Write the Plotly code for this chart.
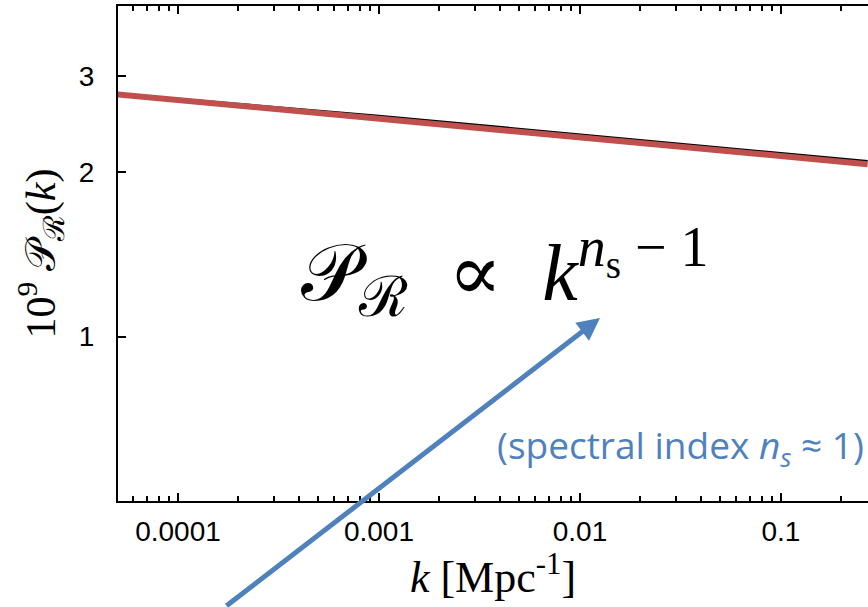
import plotly.graph_objects as go
import numpy as np

# data
k_vals = [5e-5, 1e-4, 1e-3, 1e-2, 1e-1, 0.27]
P_black = [2.776, 2.725, 2.538, 2.345, 2.167, 2.096]
P_red = [2.776, 2.711, 2.505, 2.315, 2.139, 2.069]

x_major = [1e-4, 1e-3, 1e-2, 1e-1]
x_major_labels = ["0.0001", "0.001", "0.01", "0.1"]
x_minor = [m * 10.0**e for e in range(-5, 0) for m in range(2, 10)]
y_ticks = [1, 2, 3]
y_tick_labels = ["1", "2", "3"]

W, H = 868, 607
L, R, T, B = 118, 0, 6, 106
pw, ph = W - L - R, H - T - B

def px(x):
    return (x - L) / pw

def py(y):
    return (H - B - y) / ph

fig = go.Figure()
fig.add_trace(go.Scatter(x=k_vals, y=P_black, mode="lines",
                         line=dict(color="black", width=2), showlegend=False))
fig.add_trace(go.Scatter(x=k_vals, y=P_red, mode="lines",
                         line=dict(color="#c0504d", width=6), showlegend=False))

tickfont = dict(family="Liberation Sans, Arial, sans-serif", size=28, color="black")
serif = "Liberation Serif, DejaVu Serif, serif"

fig.update_xaxes(type="log", range=[np.log10(5.03e-5), np.log10(0.271)],
                 tickmode="array", tickvals=x_major, ticktext=x_major_labels,
                 ticks="inside", ticklen=8, tickwidth=1.5, tickcolor="black",
                 minor=dict(tickmode="array", tickvals=x_minor, ticks="inside",
                            ticklen=5, tickwidth=1.5, tickcolor="black", showgrid=False),
                 showline=True, linecolor="black", linewidth=2, mirror="allticks",
                 showgrid=False, zeroline=False, tickfont=tickfont,
                 ticklabelstandoff=4,
                 title=dict(text="<i>k</i> [Mpc<sup>-1</sup>]",
                            font=dict(family=serif, size=44, color="black"),
                            standoff=4))
fig.update_yaxes(type="log", range=[np.log10(0.5), np.log10(4.03)],
                 tickmode="array", tickvals=y_ticks, ticktext=y_tick_labels,
                 ticks="inside", ticklen=8, tickwidth=1.5, tickcolor="black",
                 showline=True, linecolor="black", linewidth=2, mirror=False,
                 showgrid=False, zeroline=False, tickfont=tickfont,
                 ticklabelstandoff=16,
                 title=dict(text="10<sup>9</sup> 𝒫<sub>ℛ</sub>(<i>k</i>)",
                            font=dict(family=serif, size=42, color="black"),
                            standoff=10))

# formula
fig.add_annotation(xref="paper", yref="paper", x=px(505), y=py(272),
                   text="𝒫<sub>ℛ</sub>  ∝  <i>k</i><sup><i>n</i><sub>s</sub> − 1</sup>",
                   showarrow=False, font=dict(family=serif, size=80, color="black"),
                   xanchor="center", yanchor="middle")

# blue arrow
fig.add_annotation(xref="paper", yref="paper", x=px(600), y=py(318),
                   ax=-375, ay=305, axref="pixel", ayref="pixel",
                   text="", showarrow=True, arrowhead=2, arrowsize=0.9,
                   arrowwidth=5, arrowcolor="#4f81bd")

# blue note
fig.add_annotation(xref="paper", yref="paper", x=px(866), y=py(447),
                   text="(spectral index <i>n<sub>s</sub></i> ≈ 1)",
                   showarrow=False, xanchor="right", yanchor="middle",
                   font=dict(family="Open Sans, Lato, sans-serif", size=37, color="#4f81bd"))

fig.update_layout(width=W, height=H, margin=dict(l=L, r=R, t=T, b=B),
                  paper_bgcolor="white", plot_bgcolor="white")

fig.write_html("out.html")
